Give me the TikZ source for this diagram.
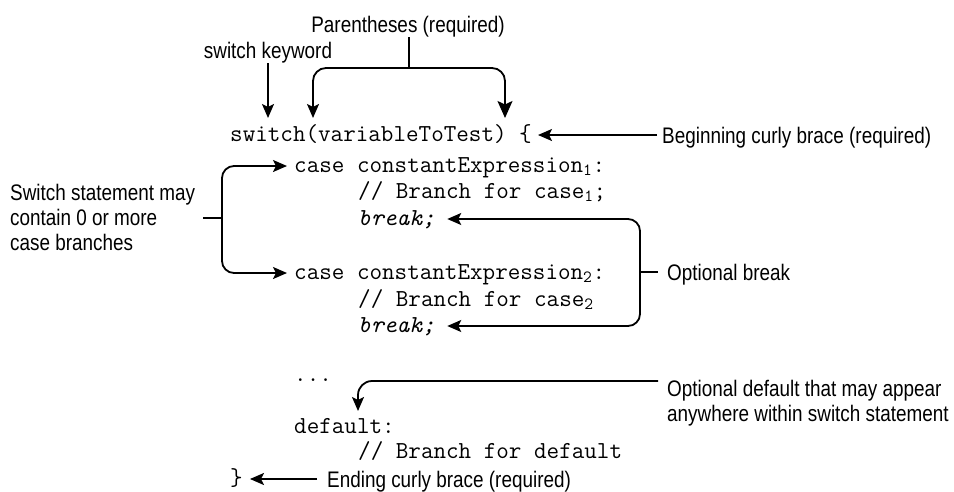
\documentclass[tikz,border=0pt]{standalone}
\usepackage{fontspec}
\setmainfont{Liberation Sans}[FakeStretch=0.84]
\usetikzlibrary{arrows.meta}
\begin{document}
\begin{tikzpicture}[x=1pt,y=-1pt,
  lab/.style={font=\fontsize{22.5}{25}\selectfont, inner sep=0pt, anchor=west, text height=16pt, text depth=0pt},
  labm/.style={font=\fontsize{22.5}{25}\selectfont, inner sep=0pt, anchor=north west, align=left},
  code/.style={font=\ttfamily\fontsize{24.4}{26}\selectfont, inner sep=0pt, anchor=west, text height=12.5pt, text depth=0pt},
  ln/.style={line width=1.8pt},
  arr/.style={ln, -{Stealth[length=14pt,width=12pt,inset=3pt]}},
  arrbig/.style={ln, -{Stealth[length=17pt,width=15pt,inset=3.5pt]}},
]
\useasboundingbox (0,0) rectangle (954,491);

% code lines
\node[code] (L1)  at (230,135) {switch(variableToTest) \{};
\node[code] (L2)  at (294,166) {case constantExpression\textsubscript{1}:};
\node[code] (L3)  at (358,192) {// Branch for case\textsubscript{1};};
\node[code] (L4)  at (358,219) {\itshape break;};
\node[code] (L5)  at (294,273) {case constantExpression\textsubscript{2}:};
\node[code] (L6)  at (358,300) {// Branch for case\textsubscript{2}};
\node[code] (L7)  at (358,326) {\itshape break;};
\node[code] (L8)  at (294,375) {...};
\node[code] (L9)  at (294,427) {default:};
\node[code] (L10) at (358,452) {// Branch for default};
\node[code] (L11) at (230,479) {\}};

% labels
\node[lab, anchor=center] (par) at (408,24) {Parentheses (required)};
\node[lab, anchor=center] (kw) at (268,50) {switch keyword};
\node[lab] (beg) at (662,135) {Beginning curly brace (required)};
\node[labm] (left) at (10,183.5) {Switch statement may\\contain 0 or more\\case branches};
\node[lab] (optbreak) at (667,272) {Optional break};
\node[labm] (optdef) at (667,379.5) {Optional default that may appear\\anywhere within switch statement};
\node[lab] (ending) at (327,479) {Ending curly brace (required)};

% switch keyword
\coordinate (kwtip) at (268,118);
\draw[arr, shorten <=5pt] (kw.south) -- (kwtip);

% parentheses
\coordinate (pj) at (409,68);
\coordinate (plt) at (313,118);
\coordinate (prt) at (505,118);
\draw[ln, shorten <=5pt] (par.south -| pj) -- (pj);
\draw[arr, rounded corners=13pt] (pj) -| (plt);
\draw[arrbig, rounded corners=13pt] (pj) -| (prt);

% beginning brace
\draw[arr, shorten <=5pt, shorten >=6pt] (beg.west) -- (L1.east);

% case branches
\coordinate (bs) at (203,218);
\coordinate (bj) at (222,218);
\draw[ln] (bs) -- (bj);
\draw[arr, rounded corners=12pt, shorten >=7pt] (bj) |- (L2.west);
\draw[arr, rounded corners=12pt, shorten >=7pt] (bj) |- (L5.west);

% optional break
\coordinate (ob) at (640,272);
\draw[ln, shorten >=9pt] (ob) -- (optbreak.west);
\draw[arr, rounded corners=12pt, shorten >=12pt] (ob) |- (L4.east);
\draw[arr, rounded corners=12pt, shorten >=12pt] (ob) |- (L7.east);

% optional default
\coordinate (od) at (658,381);
\coordinate (dt) at (358,411);
\draw[arr, rounded corners=14pt] (od) -| (dt);

% ending brace
\draw[arr, shorten <=10pt, shorten >=7pt] (ending.west) -- (L11.east);
\end{tikzpicture}
\end{document}
